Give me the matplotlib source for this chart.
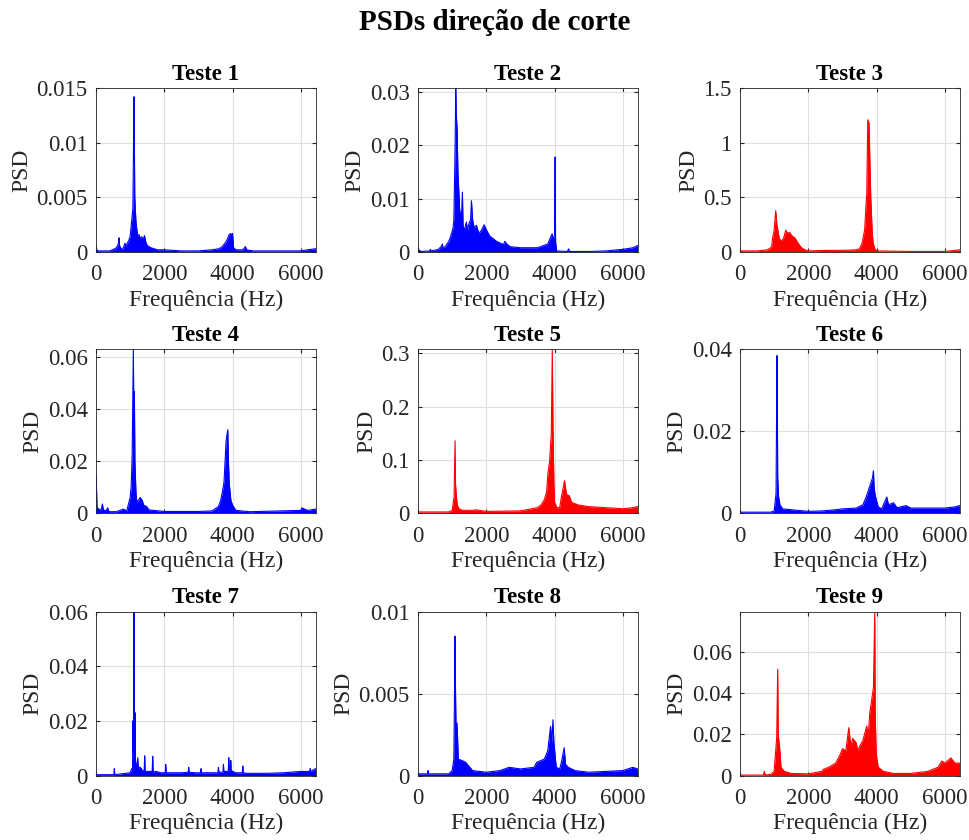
import matplotlib
matplotlib.use("Agg")
import matplotlib.pyplot as plt
from matplotlib.ticker import FuncFormatter

plt.rcParams["font.family"] = ["Liberation Serif", "DejaVu Serif"]

# PSD envelopes (frequency in Hz, PSD value)
f1 = [0, 20, 60, 200, 400, 550, 600, 660, 675, 690, 720, 760, 800, 850, 880, 900, 950, 1000, 1050, 1080,
      1100, 1115, 1124, 1135, 1150, 1170, 1190, 1220, 1260, 1300, 1340, 1380, 1420, 1460, 1500, 1550, 1600,
      1700, 1800, 2000, 2500, 3000, 3400, 3600, 3700, 3800, 3850, 3900, 3950, 3980, 4000, 4030, 4100, 4300,
      4380, 4400, 4420, 4600, 5000, 5500, 6000, 6200, 6430]
p1 = [0.0006, 0.0002, 0.0001, 0.0001, 0.0001, 0.0003, 0.0004, 0.0008, 0.0013, 0.0006, 0.0004, 0.0002, 0.0004,
      0.0008, 0.0005, 0.0007, 0.001, 0.0014, 0.003, 0.004, 0.01, 0.0142, 0.0102, 0.0052, 0.004, 0.0028, 0.0022,
      0.0015, 0.0016, 0.0012, 0.0014, 0.0011, 0.0015, 0.0009, 0.0006, 0.0005, 0.0004, 0.0003, 0.0002, 0.0002,
      0.0001, 0.0001, 0.0002, 0.0003, 0.0005, 0.0009, 0.0012, 0.0016, 0.0017, 0.0014, 0.0017, 0.0004, 0.0002,
      0.0002, 0.0005, 0.0003, 0.0002, 0.0001, 0.0001, 0.0001, 0.0001, 0.0002, 0.0003]

f2 = [0, 30, 100, 340, 362, 380, 600, 700, 714, 730, 800, 900, 960, 1027, 1050, 1076, 1090, 1106, 1120, 1145,
      1170, 1220, 1270, 1301, 1320, 1350, 1418, 1450, 1500, 1540, 1566, 1600, 1650, 1712, 1780, 1850, 1937,
      2000, 2100, 2300, 2500, 2545, 2600, 2700, 3000, 3500, 3800, 3900, 3929, 3960, 4000, 4017, 4030, 4060,
      4380, 4410, 4440, 5000, 5500, 6000, 6300, 6430]
p2 = [0.001, 0.0003, 0.0001, 0.0002, 0.0005, 0.0002, 0.0005, 0.0012, 0.0015, 0.0008, 0.001, 0.002, 0.003, 0.0045,
      0.006, 0.0154, 0.0214, 0.0307, 0.026, 0.023, 0.015, 0.008, 0.006, 0.0112, 0.005, 0.004, 0.0056, 0.004, 0.0055,
      0.006, 0.0096, 0.006, 0.0045, 0.005, 0.0035, 0.004, 0.0051, 0.0042, 0.003, 0.002, 0.0014, 0.002, 0.0015,
      0.001, 0.0008, 0.0008, 0.0015, 0.003, 0.0034, 0.0025, 0.003, 0.0178, 0.002, 0.0002, 0.0001, 0.0006, 0.0001,
      0.0001, 0.0002, 0.0005, 0.0008, 0.0012]

f3 = [0, 500, 800, 900, 928, 950, 1000, 1046, 1080, 1120, 1150, 1221, 1280, 1339, 1400, 1450, 1515, 1612, 1700,
      1800, 1900, 2000, 2600, 3000, 3400, 3500, 3576, 3650, 3713, 3743, 3780, 3800, 3831, 3870, 3900, 3950, 4000,
      5000, 6000, 6300, 6430]
p3 = [0.01, 0.01, 0.02, 0.04, 0.05, 0.12, 0.2, 0.378, 0.25, 0.18, 0.12, 0.1, 0.13, 0.2, 0.17, 0.18, 0.15, 0.128,
      0.08, 0.04, 0.02, 0.01, 0.015, 0.015, 0.02, 0.03, 0.08, 0.2, 0.54, 1.21, 1.18, 0.9, 0.5, 0.2, 0.08, 0.03, 0.01,
      0.005, 0.005, 0.015, 0.02]

f4 = [0, 10, 30, 150, 186, 220, 300, 342, 380, 600, 700, 801, 900, 1000, 1030, 1060, 1094, 1110, 1124, 1140, 1170,
      1200, 1250, 1290, 1350, 1400, 1485, 1550, 1700, 2000, 3000, 3400, 3586, 3650, 3700, 3750, 3811, 3860, 3880,
      3900, 3950, 4000, 4100, 4500, 6000, 6030, 6200, 6430]
p4 = [0.015, 0.012, 0.002, 0.001, 0.0035, 0.001, 0.001, 0.002, 0.0005, 0.0005, 0.001, 0.0015, 0.0008, 0.006, 0.01,
      0.0227, 0.0632, 0.035, 0.0468, 0.02, 0.008, 0.004, 0.005, 0.006, 0.005, 0.003, 0.0025, 0.0012, 0.001, 0.0006,
      0.0006, 0.0008, 0.0025, 0.0048, 0.008, 0.012, 0.0279, 0.0321, 0.02, 0.012, 0.005, 0.003, 0.001, 0.0005, 0.001,
      0.002, 0.001, 0.0015]

f5 = [0, 900, 1000, 1057, 1086, 1100, 1120, 1150, 1200, 1300, 1600, 1700, 2000, 3000, 3500, 3600, 3700, 3768,
      3800, 3856, 3905, 3934, 3954, 3980, 4000, 4071, 4150, 4200, 4292, 4350, 4430, 4500, 4700, 5000, 5500, 6000,
      6300, 6430]
p5 = [0.002, 0.002, 0.005, 0.03, 0.1356, 0.053, 0.035, 0.015, 0.008, 0.005, 0.005, 0.006, 0.003, 0.004, 0.01, 0.015,
      0.025, 0.04, 0.07, 0.098, 0.15, 0.308, 0.159, 0.06, 0.02, 0.01, 0.01, 0.03, 0.0607, 0.035, 0.0325, 0.02, 0.015,
      0.012, 0.01, 0.008, 0.01, 0.012]

f6 = [0, 900, 1000, 1055, 1085, 1095, 1104, 1130, 1170, 1250, 1500, 2000, 2400, 2800, 3000, 3400, 3600, 3700, 3879,
      3909, 3930, 3970, 4050, 4150, 4300, 4350, 4495, 4600, 4866, 5000, 5500, 6000, 6300, 6430]
p6 = [0.0002, 0.0002, 0.0005, 0.0047, 0.0384, 0.027, 0.0088, 0.004, 0.002, 0.001, 0.0008, 0.0004, 0.0005, 0.0008,
      0.001, 0.0012, 0.002, 0.004, 0.0085, 0.0103, 0.006, 0.004, 0.0015, 0.001, 0.0039, 0.002, 0.0025, 0.0013,
      0.0018, 0.0012, 0.0012, 0.0012, 0.0015, 0.0018]

f7 = [0, 500, 525, 537, 550, 1000, 1050, 1070, 1080, 1100, 1108, 1114, 1120, 1135, 1143, 1152, 1170, 1200, 1221,
      1240, 1300, 1350, 1410, 1427, 1440, 1500, 1645, 1661, 1675, 1750, 1900, 2030, 2042, 2060, 2200, 2500, 2700,
      2716, 2730, 2900, 3065, 3078, 3090, 3300, 3570, 3586, 3600, 3720, 3733, 3745, 3800, 3875, 3890, 3905, 3935,
      3948, 3960, 4000, 4100, 4285, 4300, 4315, 4400, 5000, 5500, 6000, 6260, 6274, 6290, 6430]
p7 = [0.0003, 0.0003, 0.0003, 0.0025, 0.0003, 0.001, 0.0025, 0.002, 0.02, 0.008, 0.01, 0.06, 0.01, 0.008, 0.023,
      0.006, 0.004, 0.0035, 0.0065, 0.003, 0.003, 0.002, 0.0015, 0.0072, 0.0015, 0.0015, 0.0015, 0.007, 0.0012,
      0.0015, 0.001, 0.001, 0.004, 0.001, 0.001, 0.001, 0.0012, 0.003, 0.0012, 0.001, 0.001, 0.0025, 0.001, 0.001,
      0.001, 0.003, 0.0012, 0.0012, 0.004, 0.0015, 0.0015, 0.0015, 0.0065, 0.002, 0.002, 0.0055, 0.002, 0.0015,
      0.001, 0.001, 0.0035, 0.001, 0.0008, 0.0008, 0.001, 0.0015, 0.0015, 0.0025, 0.0015, 0.0025]

f8 = [0, 280, 294, 310, 900, 1000, 1050, 1086, 1100, 1120, 1145, 1180, 1301, 1400, 1600, 2000, 2400, 2672, 3000,
      3400, 3474, 3700, 3800, 3883, 3920, 3953, 3980, 4050, 4150, 4200, 4282, 4320, 4400, 4600, 5000, 6000, 6293,
      6430]
p8 = [0.0001, 0.0001, 0.0003, 0.0001, 0.0001, 0.0003, 0.001, 0.0085, 0.005, 0.002, 0.0032, 0.001, 0.0009, 0.0008,
      0.0003, 0.0002, 0.0003, 0.0005, 0.0004, 0.0005, 0.0008, 0.001, 0.0015, 0.003, 0.002, 0.0034, 0.002, 0.0005,
      0.0004, 0.0008, 0.0017, 0.0007, 0.0005, 0.0003, 0.0002, 0.0003, 0.0005, 0.0004]

f9 = [0, 690, 713, 740, 900, 1000, 1075, 1104, 1120, 1173, 1200, 1300, 1500, 2000, 2400, 2443, 2600, 2800, 2931,
      3000, 3100, 3186, 3250, 3300, 3400, 3450, 3500, 3600, 3714, 3750, 3800, 3909, 3948, 3960, 3990, 4050, 4200,
      4500, 5000, 5500, 5800, 5912, 6000, 6176, 6300, 6430]
p9 = [0.0002, 0.0002, 0.002, 0.0003, 0.0005, 0.002, 0.0184, 0.0514, 0.02, 0.0113, 0.004, 0.002, 0.001, 0.0008, 0.002,
      0.003, 0.004, 0.006, 0.01, 0.013, 0.012, 0.0232, 0.014, 0.018, 0.016, 0.012, 0.014, 0.017, 0.024, 0.018, 0.03,
      0.0426, 0.0794, 0.03, 0.01, 0.004, 0.002, 0.001, 0.001, 0.002, 0.004, 0.007, 0.006, 0.0085, 0.006, 0.006]

freqs = [f1, f2, f3, f4, f5, f6, f7, f8, f9]
psds = [p1, p2, p3, p4, p5, p6, p7, p8, p9]
titles = ["Teste %d" % (i + 1) for i in range(9)]
colors = ["b", "b", "r", "b", "r", "b", "b", "b", "r"]
yticks = [
    [0, 0.005, 0.01, 0.015],
    [0, 0.01, 0.02, 0.03],
    [0, 0.5, 1, 1.5],
    [0, 0.02, 0.04, 0.06],
    [0, 0.1, 0.2, 0.3],
    [0, 0.02, 0.04],
    [0, 0.02, 0.04, 0.06],
    [0, 0.005, 0.01],
    [0, 0.02, 0.04, 0.06],
]
xticks = [0, 2000, 4000, 6000]
fmax = 6430

W, H = 969, 840
fig = plt.figure(figsize=(W / 100, H / 100), dpi=100)

lefts = [96, 418, 740]
tops = [88, 349, 611.5]
aw, ah = 219.5, 164

txt = "#262626"
for i in range(9):
    r, c = divmod(i, 3)
    ax = fig.add_axes([lefts[c] / W, 1 - (tops[r] + ah) / H, aw / W, ah / H])
    ax.fill_between(freqs[i], 0, psds[i], color=colors[i], lw=0)
    ax.plot(freqs[i], psds[i], color=colors[i], lw=0.8)
    ax.set_xlim(0, fmax)
    ax.set_ylim(0, max(psds[i]))
    ax.set_xticks(xticks)
    ax.set_yticks(yticks[i])
    ax.yaxis.set_major_formatter(FuncFormatter(lambda v, p: "%g" % v))
    ax.grid(True, color="#dfdfdf", lw=0.8)
    ax.set_axisbelow(True)
    ax.tick_params(direction="in", top=True, right=True, length=3, labelsize=16.5, colors=txt)
    ax.tick_params(axis="x", pad=9)
    ax.tick_params(axis="y", pad=6)
    for s in ax.spines.values():
        s.set_color(txt)
        s.set_linewidth(0.6)
    ax.set_title(titles[i], fontsize=16.5, fontweight="bold", pad=6)
    ax.set_xlabel("Frequência (Hz)", fontsize=17, color=txt, labelpad=3)
    ax.set_ylabel("PSD", fontsize=17, color=txt, labelpad=3)

fig.text(495 / W, 1 - 22 / H, "PSDs direção de corte", ha="center", va="center",
         fontsize=21, fontweight="bold")

fig.savefig("out.png", dpi=100)
